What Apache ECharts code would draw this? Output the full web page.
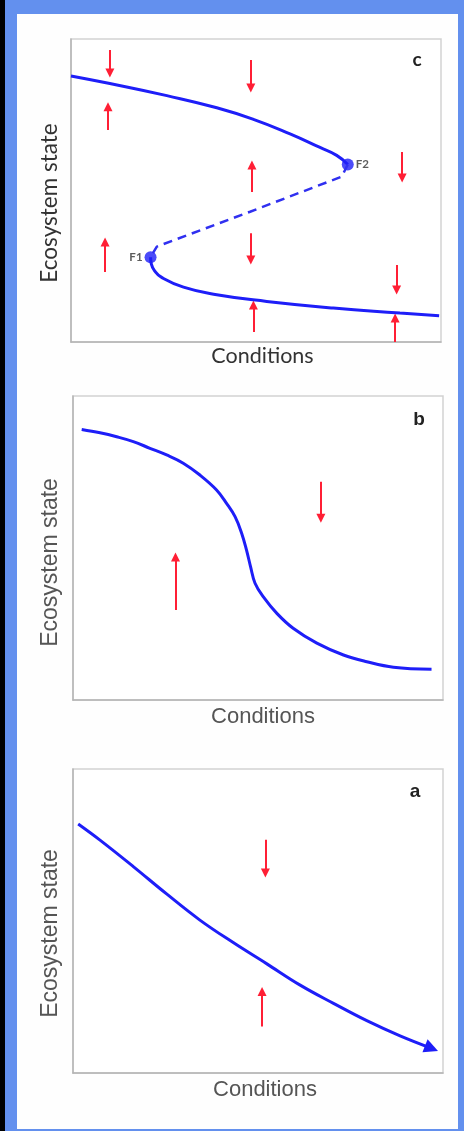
<!DOCTYPE html>
<html>
<head>
<meta charset="utf-8">
<title>Ecosystem state vs conditions</title>
<script src="https://cdn.jsdelivr.net/npm/echarts@6/dist/echarts.min.js"></script>
<style>
  html, body { margin: 0; padding: 0; width: 464px; height: 1131px; overflow: hidden; background: #000; }
  #frame { position: absolute; left: 5px; top: 0; width: 459px; height: 1131px; background: #6390ee; }
  #sheet { position: absolute; left: 17px; top: 14px; width: 441px; height: 1115px; background: #fefefe; }
  #chart { position: absolute; left: 0; top: 0; width: 464px; height: 1131px; }
</style>
</head>
<body>
<div id="frame"></div>
<div id="sheet"></div>
<div id="chart"></div>
<script>
// Panel c: fold bifurcation (two stable branches joined by an unstable one)
const cUpperBranch = [[0, 87.8], [10.5, 85.3], [25.9, 81.3], [39.4, 77.3], [49.3, 73.5], [59.2, 68.7], [67.3, 64.2], [71.8, 61.6], [74.8, 58.6]];
const cUnstableBranch = [[74.8, 58.6], [73.2, 54.6], [48.4, 43.0], [23.2, 31.5], [21.5, 28.0]];
const cLowerBranch = [[21.5, 28.0], [21.7, 25.8], [22.6, 23.5], [24.4, 21.4], [30.4, 18.1], [39.4, 15.6], [52.9, 13.4], [70.9, 11.2], [88.9, 9.6], [99.5, 8.7]];
const cFoldPoints = [
  { name: 'F1', value: [21.5, 28.0], label: { position: 'left' } },
  { name: 'F2', value: [74.8, 58.6], label: { position: 'right' } }
];
const cArrows = [
  [[10.5, 96.4], [10.5, 88.8]], [[48.6, 93.1], [48.6, 83.8]], [[10.0, 70.0], [10.0, 77.6]],
  [[48.9, 49.5], [48.9, 58.4]], [[89.5, 62.7], [89.5, 54.1]], [[9.2, 23.1], [9.2, 33.0]],
  [[48.6, 35.9], [48.6, 27.1]], [[88.0, 25.4], [88.0, 17.2]], [[49.3, 3.3], [49.3, 12.2]],
  [[87.6, 0.0], [87.6, 7.9]]
];

// Panel b: smooth but steep response
const bCurve = [
  [2.35, 89.0], [7.3, 87.9], [11.8, 86.6], [16.3, 85.0], [20.8, 82.8], [25.3, 80.6], [29.8, 77.9],
  [34.3, 74.0], [38.8, 69.1], [41.5, 64.7], [43.8, 60.3], [45.6, 54.8], [46.9, 49.3], [48.0, 43.8],
  [49.2, 38.4], [51.4, 34.0], [55.1, 28.5], [59.5, 23.6], [65.9, 18.7], [73.1, 14.8], [79.4, 12.6],
  [86.6, 10.8], [96.9, 10.1]
];
const bArrows = [[[67.0, 71.8], [67.0, 59.8]], [[27.7, 29.6], [27.7, 47.0]]];

// Panel a: gradual response
const aCurve = [
  [1.4, 81.9], [7.3, 76.6], [16.3, 67.9], [25.3, 58.9], [34.3, 50.3], [43.3, 42.9], [52.4, 35.9],
  [61.4, 28.9], [70.4, 22.9], [79.4, 17.2], [88.4, 12.2], [96.9, 8.1]
];
const aArrows = [[[52.0, 76.7], [52.0, 65.8]], [[51.1, 15.3], [51.1, 26.8]]];

const panelLetters = ['c', 'b', 'a'];
const xTitle = 'Conditions';
const yTitle = 'Ecosystem state';

const BLUE = '#1e1ef8';
const RED = '#ff1f35';

const grids = [
  { left: 71, top: 39, width: 370, height: 303 },
  { left: 73, top: 396, width: 370, height: 304 },
  { left: 73, top: 769, width: 370, height: 304 }
];
const fonts = [
  { family: 'Lato', color: '#333', size: 21.5, xPad: 13, yPad: 25, xGap: 3, yGap: 10 },
  { family: 'Liberation Sans', color: '#555', size: 22, xPad: 10, yPad: 29, xGap: 6, yGap: 11 },
  { family: 'Liberation Sans', color: '#555', size: 22, xPad: 14, yPad: 25, xGap: 6, yGap: 11 }
];

function axisBase() {
  return {
    type: 'value', min: 0, max: 100,
    axisTick: { show: false }, axisLabel: { show: false }, splitLine: { show: false },
    axisLine: { show: true, lineStyle: { color: '#b4b4b4', width: 1.5 } }
  };
}

const xAxes = grids.map((g, i) => Object.assign(axisBase(), {
  gridIndex: i, name: xTitle, nameLocation: 'middle', nameGap: fonts[i].xGap,
  nameTextStyle: { fontFamily: fonts[i].family, fontSize: fonts[i].size, color: fonts[i].color, padding: [0, 0, 0, fonts[i].xPad], verticalAlign: 'top' }
}));
const yAxes = grids.map((g, i) => Object.assign(axisBase(), {
  gridIndex: i, name: yTitle, nameLocation: 'middle', nameGap: fonts[i].yGap, nameRotate: 90,
  nameTextStyle: { fontFamily: fonts[i].family, fontSize: fonts[i].size + 1, color: fonts[i].color, padding: [0, fonts[i].yPad, 0, 0] }
}));

function curve(data, idx, extra) {
  return Object.assign({
    type: 'line', xAxisIndex: idx, yAxisIndex: idx, data: data,
    showSymbol: false, smooth: 0.5, silent: true,
    lineStyle: { color: BLUE, width: 3 }
  }, extra || {});
}
function arrows(list, idx) {
  return {
    type: 'lines', coordinateSystem: 'cartesian2d', xAxisIndex: idx, yAxisIndex: idx,
    data: list.map(c => ({ coords: c })),
    symbol: ['none', 'triangle'], symbolSize: 9, silent: true,
    lineStyle: { color: RED, width: 2, opacity: 1 }
  };
}

const series = [
  curve(cUpperBranch, 0),
  curve(cUnstableBranch, 0, { smooth: false, lineStyle: { color: '#3030f0', width: 2.5, type: [9, 6] } }),
  curve(cLowerBranch, 0),
  {
    type: 'scatter', xAxisIndex: 0, yAxisIndex: 0, data: cFoldPoints,
    symbolSize: 12, itemStyle: { color: BLUE }, silent: true,
    label: {
      show: true, formatter: '{b}', fontFamily: 'Lato', fontWeight: 'bold', fontSize: 11.5, color: '#333',
      distance: 2
    }
  },
  arrows(cArrows, 0),
  curve(bCurve, 1, { smooth: 0.4 }),
  arrows(bArrows, 1),
  curve(aCurve, 2, { smooth: 0.4 }),
  {
    type: 'lines', coordinateSystem: 'cartesian2d', xAxisIndex: 2, yAxisIndex: 2,
    data: [{ coords: aCurve.slice(-2) }],
    symbol: ['none', 'triangle'], symbolSize: 14, silent: true,
    lineStyle: { color: BLUE, width: 0.1, opacity: 1 }
  },
  arrows(aArrows, 2)
];

const letterPos = [
  { x: 417, y: 60, font: 'Lato', size: 19 },
  { x: 419, y: 420, font: 'Liberation Sans', size: 19 },
  { x: 415, y: 792, font: 'Liberation Sans', size: 19 }
];

const chart = echarts.init(document.getElementById('chart'), null, { renderer: 'canvas' });
chart.setOption({
  animation: false,
  backgroundColor: 'transparent',
  grid: grids.map(g => Object.assign({ show: true, borderColor: '#d2d2d2', borderWidth: 1.5, backgroundColor: '#fff' }, g)),
  xAxis: xAxes,
  yAxis: yAxes,
  series: series,
  graphic: panelLetters.map((t, i) => ({
    type: 'text', x: letterPos[i].x, y: letterPos[i].y, silent: true,
    style: {
      text: t, fontFamily: letterPos[i].font, fontWeight: 'bold', fontSize: letterPos[i].size,
      fill: '#222', align: 'center', verticalAlign: 'middle'
    }
  }))
});
</script>
</body>
</html>
